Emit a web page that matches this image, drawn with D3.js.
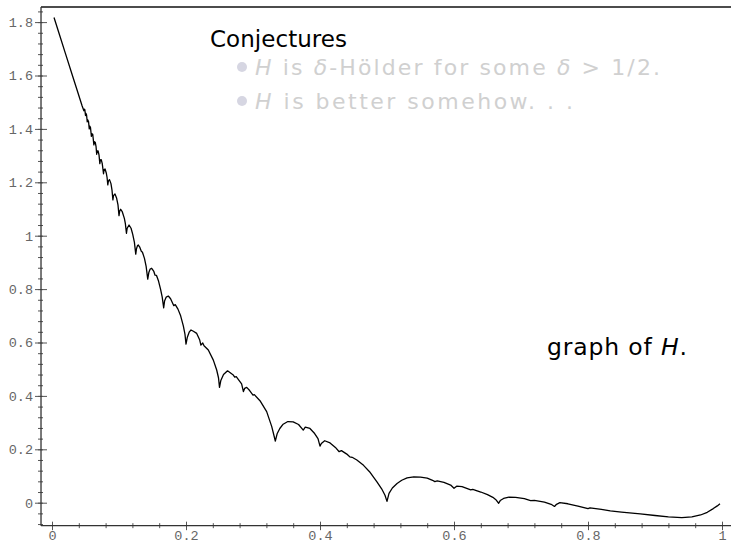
<!DOCTYPE html>
<html>
<head>
<meta charset="utf-8">
<script src="https://cdn.jsdelivr.net/npm/d3@7"></script>
<style>
  html, body { margin: 0; padding: 0; background: #fff; }
  svg { display: block; }
</style>
</head>
<body>
<svg id="chart" width="731" height="543"></svg>
<script>
// Sample points of the graph of H on [0, 1]
const graphX = [
  0.003, 0.01, 0.02, 0.03, 0.038, 0.045,
  0.0476, 0.0482, 0.049, 0.05,
  0.0507, 0.0516, 0.0526,
  0.0533, 0.0545, 0.0556,
  0.0563, 0.0574, 0.0588,
  0.0596, 0.0608, 0.0625,
  0.0633, 0.0645, 0.0657, 0.0667,
  0.0675, 0.0688, 0.0702, 0.0714,
  0.0722, 0.0735, 0.075, 0.0769,
  0.0778, 0.0792, 0.081, 0.0822, 0.0833,
  0.0842, 0.0858, 0.088, 0.0895, 0.0909,
  0.0918, 0.094, 0.0965, 0.0985, 0.1,
  0.101, 0.1025, 0.105, 0.108, 0.1095, 0.1111,
  0.1122, 0.115, 0.118, 0.1205, 0.123, 0.125,
  0.1262, 0.1275, 0.1288, 0.131, 0.1333, 0.135, 0.138, 0.1405, 0.1429,
  0.1445, 0.1465, 0.1488, 0.152, 0.1538, 0.156, 0.159, 0.162, 0.1645, 0.1667,
  0.168, 0.1705, 0.1736, 0.177, 0.1818, 0.184, 0.188, 0.192, 0.196, 0.1985, 0.2,
  0.202, 0.205, 0.2075, 0.211, 0.216, 0.2205, 0.2222, 0.225, 0.2269, 0.2333, 0.2408, 0.2458, 0.2485, 0.25,
  0.252, 0.256, 0.262, 0.2706, 0.2727, 0.275, 0.278, 0.283, 0.2857, 0.2875, 0.2906, 0.295, 0.3, 0.302, 0.3104, 0.3204, 0.328, 0.3333,
  0.336, 0.34, 0.345, 0.352, 0.36, 0.368, 0.375, 0.378, 0.385, 0.392, 0.397, 0.4,
  0.402, 0.407, 0.415, 0.423, 0.4286, 0.432, 0.44, 0.4444, 0.448, 0.455, 0.465, 0.475, 0.485, 0.492, 0.497, 0.5,
  0.503, 0.508, 0.515, 0.522, 0.53, 0.54, 0.55, 0.56, 0.568, 0.5714, 0.575, 0.585, 0.595, 0.6,
  0.604, 0.612, 0.625, 0.628, 0.64, 0.65, 0.658, 0.663, 0.6667,
  0.669, 0.674, 0.682, 0.692, 0.705, 0.7143, 0.72, 0.735, 0.745, 0.75,
  0.753, 0.758, 0.77, 0.785, 0.8, 0.803, 0.82, 0.8333, 0.85, 0.878, 0.9, 0.92, 0.94, 0.955, 0.968, 0.978, 0.987, 0.993, 0.997
];
const graphH = [
  1.817, 1.762, 1.683, 1.604, 1.541, 1.486,
  1.468, 1.474, 1.472, 1.450,
  1.458, 1.452, 1.426,
  1.434, 1.428, 1.400,
  1.410, 1.406, 1.372,
  1.382, 1.380, 1.340,
  1.352, 1.350, 1.335, 1.305,
  1.318, 1.318, 1.302, 1.270,
  1.284, 1.285, 1.270, 1.232,
  1.248, 1.250, 1.235, 1.218, 1.190,
  1.205, 1.210, 1.195, 1.172, 1.134,
  1.150, 1.156, 1.140, 1.115, 1.075,
  1.092, 1.099, 1.089, 1.065, 1.045, 1.009,
  1.028, 1.040, 1.028, 1.005, 0.975, 0.931,
  0.952, 0.962, 0.965, 0.957, 0.942, 0.938, 0.915, 0.885, 0.837,
  0.862, 0.875, 0.878, 0.866, 0.852, 0.851, 0.830, 0.800, 0.770, 0.730,
  0.755, 0.770, 0.774, 0.764, 0.738, 0.742, 0.725, 0.700, 0.662, 0.630, 0.594,
  0.620, 0.640, 0.647, 0.642, 0.634, 0.609, 0.590, 0.598, 0.588, 0.572, 0.534, 0.497, 0.468, 0.432,
  0.458, 0.480, 0.494, 0.478, 0.470, 0.472, 0.462, 0.445, 0.416, 0.428, 0.432, 0.420, 0.403, 0.405, 0.382, 0.341, 0.285, 0.231,
  0.258, 0.278, 0.294, 0.304, 0.303, 0.293, 0.272, 0.283, 0.278, 0.259, 0.240, 0.212,
  0.222, 0.232, 0.224, 0.207, 0.191, 0.195, 0.182, 0.172, 0.170, 0.160, 0.140, 0.113, 0.078, 0.052, 0.028, 0.005,
  0.035, 0.055, 0.072, 0.084, 0.093, 0.097, 0.096, 0.092, 0.084, 0.079, 0.082, 0.076, 0.066, 0.054,
  0.062, 0.060, 0.048, 0.050, 0.040, 0.030, 0.020, 0.010, -0.002,
  0.008, 0.016, 0.021, 0.020, 0.015, 0.008, 0.009, 0.002, -0.006, -0.014,
  -0.006, 0.000, -0.004, -0.013, -0.022, -0.019, -0.025, -0.031, -0.035, -0.042, -0.048, -0.053, -0.056, -0.053, -0.046, -0.036, -0.022, -0.012, -0.004
];

const xTicks = [0, 0.2, 0.4, 0.6, 0.8, 1];
const yTicks = [0, 0.2, 0.4, 0.6, 0.8, 1, 1.2, 1.4, 1.6, 1.8];
const xMinorTicks = d3.range(0, 1.0001, 0.04);
const yMinorTicks = d3.range(-0.08, 1.8401, 0.04);

const titleText = "Conjectures";
const graphLabel = ["graph of ", "H", "."];

const svg = d3.select("#chart");

const x = d3.scaleLinear().domain([0, 1]).range([52, 722]);
const y = d3.scaleLinear().domain([0, 1.8]).range([502.7, 22.1]);

const axisX0 = x(-0.0164);   // where the vertical axis sits
const axisY0 = y(-0.086);    // where the horizontal axis sits

const fmt = d => (d === 0 ? "0" : d === 1 ? "1" : d3.format(".1f")(d));
const tickFont = "'Liberation Mono', 'DejaVu Sans Mono', monospace";

// top rule
svg.append("line")
  .attr("x1", axisX0).attr("x2", 731)
  .attr("y1", 7).attr("y2", 7)
  .attr("stroke", "#111").attr("stroke-width", 1.6);

// vertical axis: minor ticks, major ticks crossing, labels
const yAxisG = svg.append("g").attr("transform", `translate(${axisX0},0)`);
yAxisG.append("g")
  .call(d3.axisLeft(y).tickValues(yMinorTicks).tickSize(3).tickFormat(""))
  .call(g => g.select(".domain").remove());
yAxisG.append("g")
  .call(d3.axisRight(y).tickValues(yMinorTicks).tickSize(2).tickFormat(""))
  .call(g => g.select(".domain").remove());
yAxisG.append("g")
  .call(d3.axisRight(y).tickValues(yTicks).tickSize(6).tickFormat(""))
  .call(g => g.select(".domain").remove());
yAxisG.append("g")
  .call(d3.axisLeft(y).tickValues(yTicks).tickSize(6).tickPadding(2).tickFormat(fmt))
  .call(g => g.select(".domain").remove())
  .call(g => g.selectAll("text")
    .attr("font-family", tickFont).attr("font-size", 13.5).attr("fill", "#666"));
yAxisG.selectAll(".tick line").attr("stroke", "#555");
yAxisG.append("line")
  .attr("x1", 0).attr("x2", 0)
  .attr("y1", 7).attr("y2", axisY0)
  .attr("stroke", "#333").attr("stroke-width", 1.3);

// horizontal axis
const xAxisG = svg.append("g").attr("transform", `translate(0,${axisY0})`);
xAxisG.append("g")
  .call(d3.axisBottom(x).tickValues(xMinorTicks).tickSize(2.5).tickFormat(""))
  .call(g => g.select(".domain").remove());
xAxisG.append("g")
  .call(d3.axisTop(x).tickValues(xMinorTicks).tickSize(2.5).tickFormat(""))
  .call(g => g.select(".domain").remove());
xAxisG.append("g")
  .call(d3.axisTop(x).tickValues(xTicks).tickSize(4).tickFormat(""))
  .call(g => g.select(".domain").remove());
xAxisG.append("g")
  .call(d3.axisBottom(x).tickValues(xTicks).tickSize(4.5).tickPadding(0).tickFormat(fmt))
  .call(g => g.select(".domain").remove())
  .call(g => g.selectAll("text")
    .attr("font-family", tickFont).attr("font-size", 13.5).attr("fill", "#666"));
xAxisG.selectAll(".tick line").attr("stroke", "#555");
xAxisG.append("line")
  .attr("x1", axisX0).attr("x2", 731)
  .attr("y1", 0).attr("y2", 0)
  .attr("stroke", "#333").attr("stroke-width", 1.3);

// the graph of H
const pts = graphX.map((v, i) => [v, graphH[i]]);
const line = d3.line().x(d => x(d[0])).y(d => y(d[1])).curve(d3.curveLinear);
svg.append("path")
  .attr("d", line(pts))
  .attr("fill", "none")
  .attr("stroke", "#000")
  .attr("stroke-width", 1.3)
  .attr("stroke-linejoin", "round");

// slide text
const sans = "'DejaVu Sans', sans-serif";
svg.append("text")
  .attr("x", 210).attr("y", 47)
  .attr("font-family", sans).attr("font-size", 23).attr("fill", "#000")
  .attr("textLength", 137).attr("lengthAdjust", "spacing")
  .text(titleText);

const faded = "#d0d0d0";
const bulletFill = "#d6d6e2";
const bullets = [
  { y: 75, len: 405, parts: [["H", true], [" is ", false], ["δ", true], ["-Hölder for some ", false], ["δ", true], [" > 1/2.", false]] },
  { y: 109, len: 318, parts: [["H", true], [" is better somehow. . .", false]] }
];
bullets.forEach(b => {
  svg.append("circle")
    .attr("cx", 242).attr("cy", b.y - 8).attr("r", 5)
    .attr("fill", bulletFill);
  const t = svg.append("text")
    .attr("x", 255).attr("y", b.y)
    .attr("font-family", sans).attr("font-size", 22).attr("fill", faded)
    .attr("xml:space", "preserve")
    .attr("textLength", b.len).attr("lengthAdjust", "spacing");
  b.parts.forEach(([s, it]) => {
    t.append("tspan").attr("font-style", it ? "italic" : "normal").text(s);
  });
});

const gl = svg.append("text")
  .attr("x", 547).attr("y", 355)
  .attr("font-family", sans).attr("font-size", 23.5).attr("fill", "#000")
  .attr("xml:space", "preserve")
  .attr("textLength", 140).attr("lengthAdjust", "spacing");
graphLabel.forEach((s, i) => {
  gl.append("tspan").attr("font-style", i === 1 ? "italic" : "normal").text(s);
});
</script>
</body>
</html>
